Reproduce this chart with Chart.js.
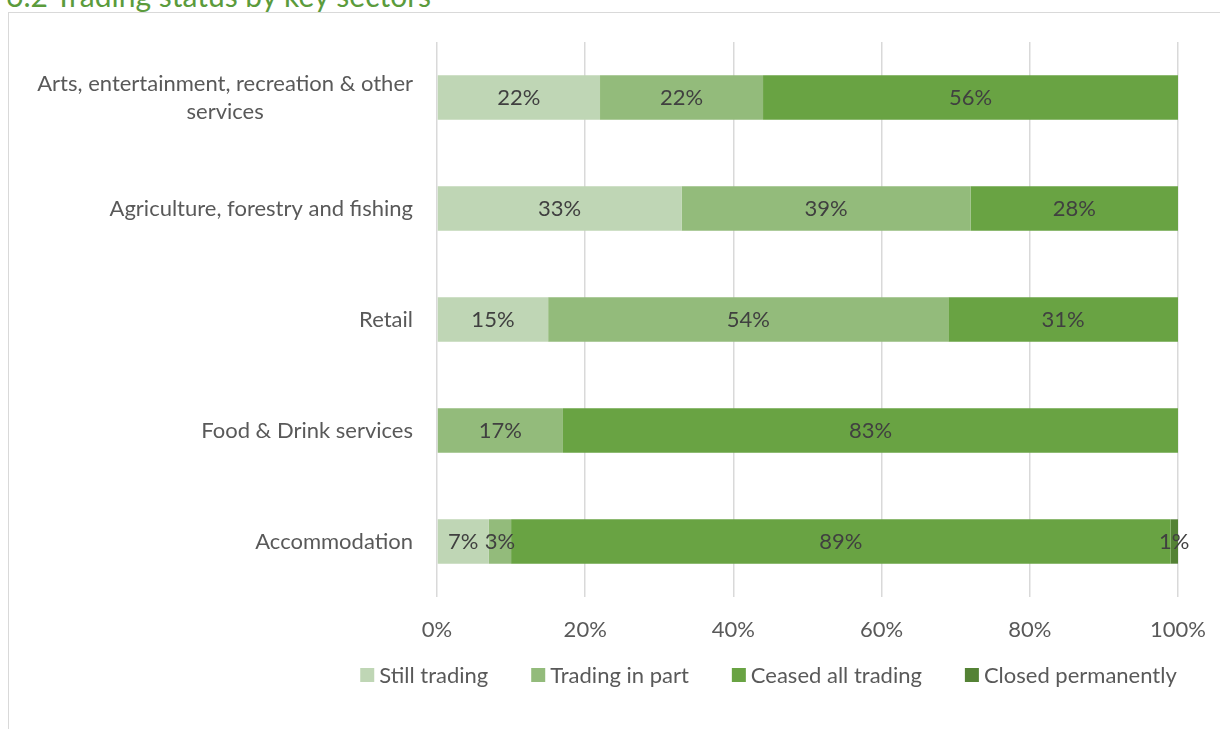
<!DOCTYPE html>
<html><head><meta charset="utf-8">
<script src="https://cdn.jsdelivr.net/npm/chart.js@4/dist/chart.umd.min.js"></script>
<style>
html,body{margin:0;padding:0;width:1220px;height:729px;overflow:hidden;background:#fff;}
#title{position:absolute;left:6px;top:-23px;font-family:Lato,"DejaVu Sans",sans-serif;font-size:30px;line-height:1.2;color:#5b9b3c;white-space:nowrap;}
#frame{position:absolute;left:8px;top:12px;width:1230px;height:740px;border:1.5px solid #d9d9d9;box-sizing:border-box;}
#wrap{position:absolute;left:0;top:0;width:1220px;height:729px;}
</style></head>
<body>
<div id="title">6.2 Trading status by key sectors</div>
<div id="frame"></div>
<div id="wrap"><canvas id="c"></canvas></div>
<script>
const categories = [["Arts, entertainment, recreation & other", "services"], "Agriculture, forestry and fishing", "Retail", "Food & Drink services", "Accommodation"];
const seriesNames = ["Still trading", "Trading in part", "Ceased all trading", "Closed permanently"];
const stillTrading = [22, 33, 15, 0, 7];
const tradingInPart = [22, 39, 54, 17, 3];
const ceasedAllTrading = [56, 28, 31, 83, 89];
const closedPermanently = [0, 0, 0, 0, 1];
const xTickValues = [0, 20, 40, 60, 80, 100];
const seriesColors = ["#bfd6b5", "#93bb7b", "#69a343", "#548235"];

const FONT = 'Lato, "DejaVu Sans", sans-serif';
const FS = 22;

const dataLabels = {
  id: 'dataLabels',
  afterDatasetsDraw(chart) {
    const ctx = chart.ctx;
    ctx.save();
    ctx.font = FS + 'px ' + FONT;
    ctx.fillStyle = '#404040';
    ctx.textAlign = 'center';
    ctx.textBaseline = 'middle';
    chart.data.datasets.forEach((ds, i) => {
      const meta = chart.getDatasetMeta(i);
      meta.data.forEach((bar, j) => {
        const v = ds.data[j];
        if (!v) return;
        const p = bar.getProps(['x', 'y', 'base'], true);
        ctx.fillText(v + '%', (p.x + p.base) / 2, p.y);
      });
    });
    ctx.restore();
  }
};

const catLabels = {
  id: 'catLabels',
  afterDraw(chart) {
    const ys = chart.scales.y;
    const ctx = chart.ctx;
    ctx.save();
    ctx.font = FS + 'px ' + FONT;
    ctx.fillStyle = '#595959';
    ctx.textBaseline = 'middle';
    ctx.textAlign = 'center';
    const right = chart.chartArea.left - 24;
    const lh = 28;
    chart.data.labels.forEach((lab, i) => {
      const lines = Array.isArray(lab) ? lab : [lab];
      const cy = ys.getPixelForValue(i);
      const maxW = Math.max(...lines.map(l => ctx.measureText(l).width));
      lines.forEach((l, k) => {
        ctx.fillText(l, right - maxW / 2, cy + (k - (lines.length - 1) / 2) * lh);
      });
    });
    ctx.restore();
  }
};

// legend drawn from the datasets (label + colour), laid out in one centred row
const LEGEND_CENTER_X = 768.5, LEGEND_Y = 675, BOX = 14, BOX_GAP = 5, ITEM_GAP = 43;
const legendRow = {
  id: 'legendRow',
  afterDraw(chart) {
    const ctx = chart.ctx;
    ctx.save();
    ctx.font = FS + 'px ' + FONT;
    ctx.textBaseline = 'middle';
    ctx.textAlign = 'left';
    const items = chart.data.datasets.map(d => ({ text: d.label, color: d.backgroundColor, w: ctx.measureText(d.label).width }));
    const total = items.reduce((s, it) => s + BOX + BOX_GAP + it.w, 0) + ITEM_GAP * (items.length - 1);
    let x = LEGEND_CENTER_X - total / 2;
    items.forEach(it => {
      ctx.fillStyle = it.color;
      ctx.fillRect(x, LEGEND_Y - BOX / 2, BOX, BOX);
      ctx.fillStyle = '#595959';
      ctx.fillText(it.text, x + BOX + BOX_GAP, LEGEND_Y + 1);
      x += BOX + BOX_GAP + it.w + ITEM_GAP;
    });
    ctx.restore();
  }
};

const seriesData = [stillTrading, tradingInPart, ceasedAllTrading, closedPermanently];
const LEFT_PAD = 359;

new Chart(document.getElementById('c'), {
  type: 'bar',
  data: {
    labels: categories,
    datasets: seriesNames.map((n, i) => ({
      label: n,
      data: seriesData[i],
      backgroundColor: seriesColors[i],
      borderWidth: 0,
      barPercentage: 0.4,
      categoryPercentage: 1
    }))
  },
  options: {
    indexAxis: 'y',
    responsive: true,
    maintainAspectRatio: false,
    animation: false,
    layout: { padding: { top: 42, right: 42, left: LEFT_PAD, bottom: 100 } },
    plugins: {
      tooltip: { enabled: false },
      legend: { display: false }
    },
    scales: {
      x: {
        stacked: true, min: 0, max: 100,
        afterBuildTicks(scale) { scale.ticks = xTickValues.map(v => ({ value: v })); },
        afterFit(scale) {
          scale.height = 32;
          scale.paddingLeft = 0;
          scale.paddingRight = 0;
          scale._computeLabelArea = () => undefined;
        },
        ticks: {
          callback: v => v + '%',
          color: '#595959',
          font: { family: FONT, size: FS, lineHeight: 1 },
          padding: 22,
          maxRotation: 0
        },
        grid: { color: '#d9d9d9', lineWidth: 1.5, drawTicks: false },
        border: { display: false }
      },
      y: {
        stacked: true,
        afterFit(scale) { scale.width = 437 - LEFT_PAD; },
        ticks: { display: false },
        grid: { display: false, drawTicks: false },
        border: { display: false }
      }
    }
  },
  plugins: [dataLabels, catLabels, legendRow]
});
</script>
</body></html>
